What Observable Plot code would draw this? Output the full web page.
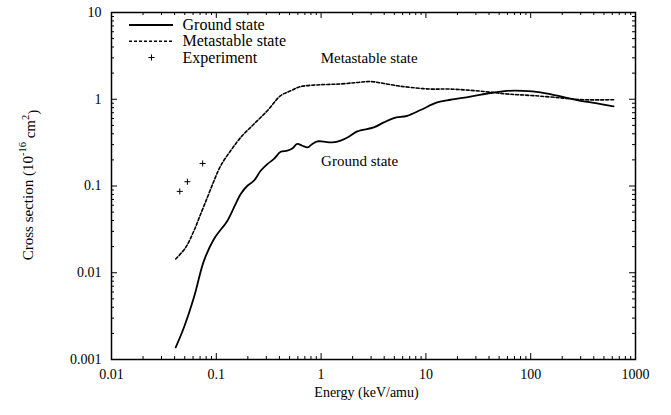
<!DOCTYPE html>
<html>
<head>
<meta charset="utf-8">
<script src="https://cdn.jsdelivr.net/npm/d3@7"></script>
<script src="https://cdn.jsdelivr.net/npm/@observablehq/plot@0.6"></script>
<style>
  html, body { margin: 0; padding: 0; background: white; }
  svg text { font-family: 'Liberation Serif', 'Times New Roman', 'DejaVu Serif', serif; }
</style>
</head>
<body>
<div id="chart"></div>
<script>
// ---- data ----
const energyGround = [0.0410, 0.0492, 0.0612, 0.0763, 0.0951, 0.1277, 0.1476, 0.171, 0.198, 0.2287,
  0.265, 0.307, 0.355, 0.411, 0.476, 0.531, 0.593, 0.662, 0.748, 0.824, 0.920, 1.065, 1.28, 1.535,
  1.84, 2.21, 3.18, 3.97, 4.94, 6.63, 8.89, 12.8, 17.2, 26.6, 41.3, 59.6, 85.7, 124, 179, 277, 430, 618];
const sigmaGround = [0.00138, 0.00235, 0.00521, 0.01378, 0.0245, 0.0398, 0.0567, 0.0809, 0.1007, 0.115,
  0.150, 0.179, 0.205, 0.248, 0.255, 0.271, 0.305, 0.291, 0.279, 0.305, 0.327, 0.324, 0.318, 0.333,
  0.370, 0.426, 0.473, 0.541, 0.607, 0.645, 0.751, 0.918, 0.987, 1.07, 1.18, 1.25, 1.25, 1.20, 1.10, 0.979, 0.895, 0.826];

const energyMeta = [0.0410, 0.0511, 0.0612, 0.0710, 0.0822, 0.0951, 0.110, 0.137, 0.171, 0.2287,
  0.307, 0.411, 0.512, 0.638, 0.989, 1.535, 2.21, 2.97, 3.97, 5.32, 7.13, 11.1, 17.2, 35.6, 59.6,
  107, 206, 320, 618];
const sigmaMeta = [0.01442, 0.0196, 0.0305, 0.0476, 0.0739, 0.115, 0.171, 0.255, 0.363, 0.518,
  0.738, 1.10, 1.25, 1.40, 1.47, 1.50, 1.56, 1.60, 1.52, 1.43, 1.37, 1.31, 1.31, 1.23, 1.15,
  1.10, 1.03, 0.987, 0.987];

const energyExp = [0.0448, 0.0530, 0.0741];
const sigmaExp = [0.0867, 0.112, 0.182];

const xTicks = [0.01, 0.1, 1, 10, 100, 1000];
const xTickLabels = ["0.01", "0.1", "1", "10", "100", "1000"];
const yTicks = [0.001, 0.01, 0.1, 1, 10];
const yTickLabels = ["0.001", "0.01", "0.1", "1", "10"];
const minorSteps = [2, 3, 4, 5, 6, 7, 8, 9];

const seriesNames = ["Ground state", "Metastable state", "Experiment"];
const xTitle = "Energy (keV/amu)";

// ---- derived tables ----
const ground = energyGround.map((e, i) => ({e, s: sigmaGround[i]}));
const meta = energyMeta.map((e, i) => ({e, s: sigmaMeta[i]}));
const expt = energyExp.map((e, i) => ({e, s: sigmaExp[i]}));
const xMinor = xTicks.slice(0, -1).flatMap(d => minorSteps.map(k => d * k));
const yMinor = yTicks.slice(0, -1).flatMap(d => minorSteps.map(k => d * k));

const W = 671, H = 415;
const mL = 111, mR = 36, mT = 12, mB = 56;
const innerW = W - mL - mR, innerH = H - mT - mB;
const FONT = "'Liberation Serif', 'Times New Roman', 'DejaVu Serif', serif";
const major = 6, minor = 3;

const chart = Plot.plot({
  width: W, height: H,
  marginLeft: mL, marginRight: mR, marginTop: mT, marginBottom: mB,
  style: {fontFamily: FONT, fontSize: "15px", background: "white", color: "black"},
  x: {type: "log", domain: [0.01, 1000]},
  y: {type: "log", domain: [0.001, 10]},
  marks: [
    // inward ticks, all four sides
    Plot.ruleX(xTicks, {x: d => d, insetTop: innerH - major, stroke: "black", strokeWidth: 1}),
    Plot.ruleX(xTicks, {x: d => d, insetBottom: innerH - major, stroke: "black", strokeWidth: 1}),
    Plot.ruleX(xMinor, {x: d => d, insetTop: innerH - minor, stroke: "black", strokeWidth: 1}),
    Plot.ruleX(xMinor, {x: d => d, insetBottom: innerH - minor, stroke: "black", strokeWidth: 1}),
    Plot.ruleY(yTicks, {y: d => d, insetRight: innerW - major, stroke: "black", strokeWidth: 1}),
    Plot.ruleY(yTicks, {y: d => d, insetLeft: innerW - major, stroke: "black", strokeWidth: 1}),
    Plot.ruleY(yMinor, {y: d => d, insetRight: innerW - minor, stroke: "black", strokeWidth: 1}),
    Plot.ruleY(yMinor, {y: d => d, insetLeft: innerW - minor, stroke: "black", strokeWidth: 1}),
    Plot.frame({stroke: "black", strokeWidth: 1.5}),
    Plot.axisX({ticks: xTicks, tickFormat: d => xTickLabels[xTicks.indexOf(d)], tickSize: 0, tickPadding: 10, label: null, fontSize: 14}),
    Plot.axisY({ticks: yTicks, tickFormat: d => yTickLabels[yTicks.indexOf(d)], tickSize: 0, tickPadding: 10, label: null, fontSize: 14}),
    // curves
    Plot.line(meta, {x: "e", y: "s", stroke: "black", strokeWidth: 1.6, strokeDasharray: "3,2", curve: "catmull-rom"}),
    Plot.line(ground, {x: "e", y: "s", stroke: "black", strokeWidth: 1.8, curve: "catmull-rom"}),
    Plot.dot(expt, {x: "e", y: "s", symbol: "plus", r: 2.1, stroke: "black", strokeWidth: 1}),
    // in-plot annotations
    Plot.text([seriesNames[1]], {x: 0.99, y: 3.0, text: d => d, textAnchor: "start", lineAnchor: "middle", fontSize: 15}),
    Plot.text([seriesNames[0]], {x: 1.0, y: 0.195, text: d => d, textAnchor: "start", lineAnchor: "middle", fontSize: 15}),
    // x title
    Plot.text([xTitle], {frameAnchor: "bottom", lineAnchor: "middle", dy: 33, dx: -7, text: d => d, fontSize: 14})
  ]
});

document.getElementById("chart").appendChild(chart);

// ---- legend and y title ----
const svg = d3.select(chart);
const leg = svg.append("g").attr("font-family", FONT).attr("font-size", 16)
  .attr("fill", "black").attr("text-anchor", "start");
const rows = [25, 41.3, 57.5];
leg.append("line").attr("x1", 129).attr("x2", 173).attr("y1", rows[0]).attr("y2", rows[0])
  .attr("stroke", "black").attr("stroke-width", 2);
leg.append("line").attr("x1", 129).attr("x2", 173).attr("y1", rows[1]).attr("y2", rows[1])
  .attr("stroke", "black").attr("stroke-width", 1.6).attr("stroke-dasharray", "3,2");
leg.append("path").attr("d", d3.symbol(d3.symbolPlus, 14)()).attr("transform", `translate(151.5,${rows[2]})`)
  .attr("stroke", "black").attr("stroke-width", 1).attr("fill", "none");
seriesNames.forEach((n, i) => {
  leg.append("text").attr("x", 182.5).attr("y", rows[i]).attr("dy", "0.32em").text(n);
});

const yt = svg.append("text")
  .attr("font-family", FONT).attr("font-size", 15).attr("fill", "black")
  .attr("text-anchor", "middle")
  .attr("transform", "translate(32.5,185) rotate(-90)");
yt.append("tspan").text("Cross section (10");
yt.append("tspan").attr("font-size", 10.5).attr("dy", "-0.6em").text("-16");
yt.append("tspan").attr("dy", "0.6em").text(" cm");
yt.append("tspan").attr("font-size", 10.5).attr("dy", "-0.6em").text("2");
yt.append("tspan").attr("dy", "0.6em").text(")");
</script>
</body>
</html>
